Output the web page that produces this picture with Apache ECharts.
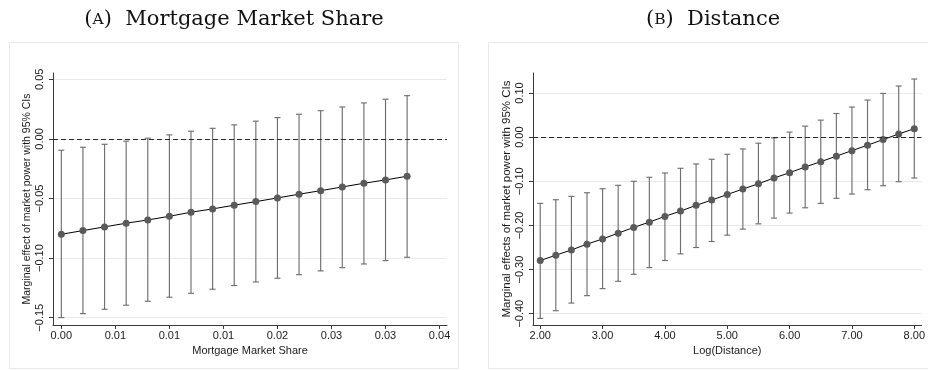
<!DOCTYPE html>
<html>
<head>
<meta charset="utf-8">
<script src="https://cdn.jsdelivr.net/npm/echarts@6/dist/echarts.min.js"></script>
<style>
  html, body { margin: 0; padding: 0; background: #ffffff; }
  #chart { width: 928px; height: 370px; }
</style>
</head>
<body>
<div id="chart"></div>
<script>
// ---- Panel A: mortgage market share ----
const shareX = [0, 0.002, 0.004, 0.006, 0.008, 0.010, 0.012, 0.014, 0.016,
                0.018, 0.020, 0.022, 0.024, 0.026, 0.028, 0.030, 0.032];
const shareEffect = [-0.0800, -0.0769, -0.0738, -0.0707, -0.0680, -0.0649, -0.0615, -0.0587, -0.0556,
                     -0.0526, -0.0495, -0.0464, -0.0434, -0.0403, -0.0372, -0.0344, -0.0313];
const shareLower = [-0.1499, -0.1466, -0.1429, -0.1395, -0.1362, -0.1328, -0.1295, -0.1261, -0.1230,
                    -0.1200, -0.1169, -0.1139, -0.1107, -0.1080, -0.1049, -0.1021, -0.0993];
const shareUpper = [-0.0095, -0.0070, -0.0045, -0.0019, 0.0006, 0.0034, 0.0065, 0.0089, 0.0118,
                    0.0149, 0.0179, 0.0207, 0.0237, 0.0268, 0.0302, 0.0333, 0.0363];
const shareXTicks = [0, 0.005, 0.010, 0.015, 0.020, 0.025, 0.030, 0.035];
const shareXLabels = ['0.00', '0.01', '0.01', '0.01', '0.02', '0.03', '0.03', '0.04'];
const shareYTicks = [-0.15, -0.10, -0.05, 0, 0.05];
const shareYLabels = ['\u22120.15', '\u22120.10', '\u22120.05', '0.00', '0.05'];

// ---- Panel B: distance ----
const distX = [2.00, 2.25, 2.50, 2.75, 3.00, 3.25, 3.50, 3.75, 4.00, 4.25, 4.50, 4.75, 5.00,
               5.25, 5.50, 5.75, 6.00, 6.25, 6.50, 6.75, 7.00, 7.25, 7.50, 7.75, 8.00];
const distEffect = [-0.2795, -0.2675, -0.2555, -0.2425, -0.2305, -0.2175, -0.2045, -0.1925, -0.1795,
                    -0.1675, -0.1545, -0.1425, -0.1300, -0.1175, -0.1055, -0.0925, -0.0805, -0.0675,
                    -0.0555, -0.0430, -0.0305, -0.0182, -0.0055, 0.0072, 0.0192];
const distLower = [-0.4107, -0.3932, -0.3759, -0.3591, -0.3432, -0.3266, -0.3107, -0.2955, -0.2795,
                   -0.2645, -0.2500, -0.2364, -0.2220, -0.2084, -0.1964, -0.1834, -0.1720, -0.1600,
                   -0.1500, -0.1386, -0.1289, -0.1191, -0.1100, -0.1009, -0.0925];
const distUpper = [-0.1500, -0.1418, -0.1341, -0.1259, -0.1168, -0.1091, -0.1000, -0.0909, -0.0811,
                   -0.0705, -0.0607, -0.0500, -0.0388, -0.0266, -0.0136, -0.0016, 0.0114, 0.0250,
                   0.0386, 0.0536, 0.0682, 0.0841, 0.0991, 0.1159, 0.1318];
const distXTicks = [2, 3, 4, 5, 6, 7, 8];
const distXLabels = ['2.00', '3.00', '4.00', '5.00', '6.00', '7.00', '8.00'];
const distYTicks = [-0.40, -0.30, -0.20, -0.10, 0, 0.10];
const distYLabels = ['\u22120.40', '\u22120.30', '\u22120.20', '\u22120.10', '0.00', '0.10'];

const zeroLine = 0;

const SANS = '"Liberation Sans", Arial, sans-serif';
const SERIF = '"DejaVu Serif", "Liberation Serif", serif';
const INK = '#1a1a1a';
const AXIS = '#3a3a3a';
const GRID = '#e9e9e9';
const BAR = '#6f6f6f';
const MARK = '#5a5a5a';

function labelFor(ticks, labels) {
  return function (v) {
    for (let i = 0; i < ticks.length; i++) {
      if (Math.abs(ticks[i] - v) < 1e-9) return labels[i];
    }
    return '';
  };
}

function pairs(xs, ys) { return xs.map((x, i) => [x, ys[i]]); }
function triples(xs, lo, hi) { return xs.map((x, i) => [x, lo[i], hi[i]]); }

// Vertical confidence interval with short horizontal caps
function ciRenderItem(params, api) {
  const x = api.value(0);
  const pLo = api.coord([x, api.value(1)]);
  const pHi = api.coord([x, api.value(2)]);
  const half = 3;
  const style = { stroke: BAR, lineWidth: 1.15, fill: null };
  return {
    type: 'group',
    children: [
      { type: 'line', shape: { x1: pLo[0], y1: pLo[1], x2: pHi[0], y2: pHi[1] }, style: style },
      { type: 'line', shape: { x1: pLo[0] - half, y1: pLo[1], x2: pLo[0] + half, y2: pLo[1] }, style: style },
      { type: 'line', shape: { x1: pHi[0] - half, y1: pHi[1], x2: pHi[0] + half, y2: pHi[1] }, style: style }
    ]
  };
}

function xAxisFor(gridIndex, min, max, ticks, labels, name) {
  return {
    type: 'value', gridIndex: gridIndex, min: min, max: max,
    name: name, nameLocation: 'middle', nameGap: 17,
    nameTextStyle: { fontFamily: SANS, fontSize: 11, color: INK },
    axisLine: { show: true, onZero: false, lineStyle: { color: AXIS, width: 1 } },
    axisTick: { show: true, length: 4, customValues: ticks, lineStyle: { color: AXIS, width: 1 } },
    axisLabel: { customValues: ticks, formatter: labelFor(ticks, labels), margin: 5,
                 fontFamily: SANS, fontSize: 11, color: INK, showMinLabel: true, showMaxLabel: true },
    splitLine: { show: false }
  };
}

function yAxisFor(gridIndex, min, max, ticks, labels, name, nameSize) {
  return {
    type: 'value', gridIndex: gridIndex, min: min, max: max,
    name: name, nameLocation: 'middle', nameGap: 20,
    nameTextStyle: { fontFamily: SANS, fontSize: nameSize, color: INK },
    axisLine: { show: true, onZero: false, lineStyle: { color: AXIS, width: 1 } },
    axisTick: { show: true, length: 4, customValues: ticks, lineStyle: { color: AXIS, width: 1 } },
    axisLabel: { customValues: ticks, formatter: labelFor(ticks, labels), rotate: 90, margin: 8,
                 fontFamily: SANS, fontSize: 11, color: INK, showMinLabel: true, showMaxLabel: true },
    splitLine: { show: true, lineStyle: { color: GRID, width: 1 } }
  };
}

function zeroMark() {
  return {
    silent: true, symbol: 'none', animation: false,
    label: { show: false },
    lineStyle: { color: '#2a2a2a', width: 1, type: [5, 3] },
    data: [{ yAxis: zeroLine }]
  };
}

function seriesFor(idx, xs, eff, lo, hi) {
  return [
    {
      type: 'custom', xAxisIndex: idx, yAxisIndex: idx,
      data: triples(xs, lo, hi), renderItem: ciRenderItem,
      encode: { x: 0, y: [1, 2] }, z: 2, animation: false,
      markLine: zeroMark()
    },
    {
      type: 'line', xAxisIndex: idx, yAxisIndex: idx,
      data: pairs(xs, eff), symbol: 'circle', symbolSize: 7, showSymbol: true,
      itemStyle: { color: MARK, borderWidth: 0 },
      lineStyle: { color: '#000000', width: 1 },
      z: 3, animation: false
    }
  ];
}

const chart = echarts.init(document.getElementById('chart'), null, { renderer: 'canvas' });

chart.setOption({
  backgroundColor: '#ffffff',
  animation: false,
  graphic: [
    { type: 'rect', shape: { x: 9.5, y: 42.5, width: 449, height: 326 },
      style: { fill: 'none', stroke: '#e8e8e8', lineWidth: 1 }, silent: true, z: -10 },
    { type: 'rect', shape: { x: 488.5, y: 42.5, width: 470, height: 326 },
      style: { fill: 'none', stroke: '#e8e8e8', lineWidth: 1 }, silent: true, z: -10 },
    { type: 'text', x: 234, y: 20, silent: true,
      style: { text: '({sc|A})  Mortgage Market Share', textAlign: 'center', textVerticalAlign: 'middle',
               fontFamily: SERIF, fontSize: 21, fill: '#111',
               rich: { sc: { fontFamily: SERIF, fontSize: 15.5, fill: '#111' } } } },
    { type: 'text', x: 713, y: 20, silent: true,
      style: { text: '({sc|B})  Distance', textAlign: 'center', textVerticalAlign: 'middle',
               fontFamily: SERIF, fontSize: 21, fill: '#111',
               rich: { sc: { fontFamily: SERIF, fontSize: 15.5, fill: '#111' } } } }
  ],
  grid: [
    { left: 53, top: 73, width: 394, height: 252 },
    { left: 533, top: 73, width: 393, height: 252 }
  ],
  xAxis: [
    xAxisFor(0, -0.00077, 0.03569, shareXTicks, shareXLabels, 'Mortgage Market Share'),
    xAxisFor(1, 1.884, 8.116, distXTicks, distXLabels, 'Log(Distance)')
  ],
  yAxis: [
    yAxisFor(0, -0.1561, 0.0553, shareYTicks, shareYLabels, 'Marginal effect of market power with 95% CIs', 10.5),
    yAxisFor(1, -0.4256, 0.1454, distYTicks, distYLabels, 'Marginal effects of market power with 95% CIs', 11.5)
  ],
  series: [].concat(
    seriesFor(0, shareX, shareEffect, shareLower, shareUpper),
    seriesFor(1, distX, distEffect, distLower, distUpper)
  )
});
</script>
</body>
</html>
